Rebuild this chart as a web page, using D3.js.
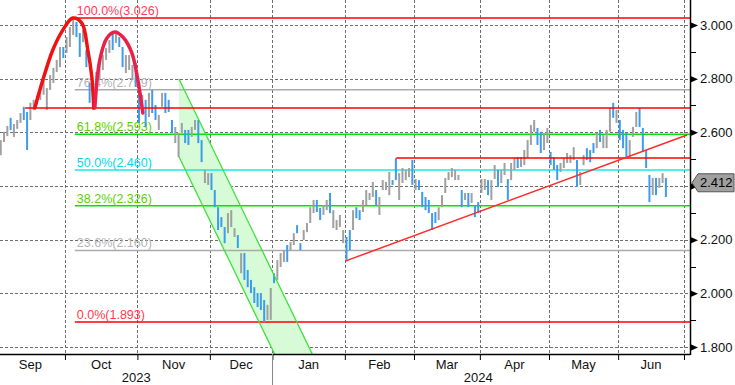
<!DOCTYPE html>
<html>
<head>
<meta charset="utf-8">
<script src="https://cdn.jsdelivr.net/npm/d3@7"></script>
<style>
body{margin:0;background:#fff;}
svg{display:block;font-family:"Liberation Sans",Arial,sans-serif;}
</style>
</head>
<body>
<div id="chart"></div>
<script>
// ---- data (daily bars, Sep 2023 - Jun 2024, trading-day index) ----
var monthStart = [0, 21, 43, 65, 84, 106, 127, 147, 168, 189, 209];
var monthNames = ["Sep", "Oct", "Nov", "Dec", "Jan", "Feb", "Mar", "Apr", "May", "Jun"];
var yearNames = ["2023", "2024"];
var yearStart = [0, 84];

var high = [
  2.583,2.571,2.602,2.624,2.654,2.631,2.646,2.672,2.695,2.676,2.710,2.721,2.736,2.773,2.795,2.765,2.814,2.840,2.870,2.918,2.918, // Sep
  2.955,2.993,3.026,3.011,2.970,2.981,2.907,2.784,2.758,2.825,2.862,2.888,2.914,2.944,2.970,2.970,2.955,2.918,2.888,2.888,2.851,2.859, // Oct
  2.758,2.740,2.721,2.747,2.758,2.702,2.665,2.747,2.747,2.721,2.646,2.620,2.598,2.635,2.609,2.609,2.620,2.646,2.646,2.571,2.460,2.448, // Nov
  2.448,2.385,2.321,2.284,2.247,2.299,2.310,2.243,2.217,2.150,2.150,2.087,2.050,2.023,2.001,2.001,1.975,1.957,2.020, // Dec
  2.075,2.124,2.150,2.161,2.180,2.191,2.224,2.254,2.187,2.236,2.262,2.321,2.348,2.348,2.318,2.329,2.348,2.374,2.310,2.273,2.292,2.236, // Jan
  2.210,2.236,2.310,2.321,2.310,2.348,2.385,2.374,2.415,2.385,2.359,2.422,2.415,2.452,2.422,2.504,2.448,2.467,2.460,2.467,2.497, // Feb
  2.426,2.422,2.378,2.359,2.348,2.299,2.303,2.321,2.366,2.430,2.452,2.467,2.460,2.441,2.385,2.374,2.374,2.374,2.329,2.340, // Mar
  2.426,2.426,2.422,2.422,2.478,2.460,2.460,2.486,2.426,2.486,2.504,2.508,2.508,2.534,2.571,2.627,2.646,2.616,2.602,2.598,2.616, // Apr
  2.527,2.508,2.478,2.486,2.504,2.523,2.515,2.545,2.497,2.452,2.515,2.541,2.534,2.560,2.598,2.609,2.590,2.609,2.691,2.710,2.683, // May
  2.646,2.609,2.598,2.571,2.620,2.676,2.691,2.616,2.534,2.441,2.430,2.430,2.430,2.448,2.430 // Jun
];
var low = [
  2.534,2.515,2.564,2.586,2.609,2.583,2.613,2.635,2.646,2.534,2.646,2.683,2.706,2.721,2.740,2.683,2.758,2.784,2.825,2.843,2.877,
  2.896,2.918,2.963,2.955,2.881,2.936,2.843,2.710,2.683,2.740,2.795,2.832,2.870,2.896,2.907,2.933,2.918,2.843,2.821,2.832,2.795,2.769,
  2.635,2.683,2.620,2.657,2.672,2.646,2.609,2.695,2.672,2.676,2.598,2.560,2.508,2.598,2.560,2.553,2.583,2.609,2.560,2.489,2.411,2.404,
  2.385,2.321,2.236,2.247,2.187,2.224,2.247,2.210,2.169,2.075,2.050,2.023,2.001,1.964,1.949,1.938,1.893,1.901,1.901,
  2.038,2.050,2.098,2.117,2.117,2.161,2.180,2.224,2.161,2.199,2.228,2.262,2.299,2.303,2.273,2.292,2.310,2.299,2.243,2.236,2.247,2.187,
  2.120,2.161,2.236,2.280,2.273,2.303,2.329,2.348,2.359,2.329,2.292,2.385,2.385,2.366,2.404,2.422,2.348,2.411,2.422,2.433,2.404,
  2.385,2.385,2.321,2.310,2.299,2.236,2.262,2.273,2.321,2.374,2.422,2.433,2.422,2.422,2.321,2.348,2.321,2.337,2.284,2.299,
  2.374,2.385,2.366,2.348,2.426,2.396,2.411,2.441,2.348,2.422,2.460,2.467,2.471,2.478,2.504,2.553,2.602,2.553,2.523,2.534,2.560,
  2.478,2.460,2.422,2.452,2.467,2.486,2.486,2.497,2.396,2.404,2.478,2.497,2.489,2.523,2.541,2.564,2.541,2.541,2.602,2.654,2.635,
  2.571,2.541,2.508,2.508,2.583,2.620,2.620,2.527,2.467,2.340,2.366,2.366,2.393,2.411,2.359
];
// 1 = down day (blue), 0 = up day (grey)
var down = [
  0,0,0,0,1,0,0,0,1,1,0,0,0,0,0,0,0,0,0,0,1,
  0,0,0,1,1,0,1,1,0,0,0,0,0,0,1,0,1,1,0,0,0,1,
  1,0,1,0,1,1,0,0,1,1,1,0,0,0,1,1,0,0,1,1,0,0,
  1,1,1,1,1,0,0,0,1,0,1,1,1,1,1,1,1,0,0,
  1,0,0,0,1,0,0,1,1,0,0,0,0,1,1,0,0,1,0,0,0,0,
  1,1,0,1,1,0,0,0,0,1,0,0,0,0,1,1,0,0,0,0,1,
  0,1,1,1,1,1,1,0,0,0,0,0,0,0,1,0,1,0,1,1,
  0,0,1,0,0,1,0,0,1,0,0,1,0,0,0,0,0,1,1,0,0,
  1,1,1,0,0,0,0,0,1,0,0,1,1,1,0,1,0,0,0,1,0,
  1,1,1,0,0,0,1,1,1,1,0,1,0,0,1
];
var lastValue = 2.412;

// Fibonacci retracement (from the Oct high to the Dec low)
var fibLevels = [1.893, 2.160, 2.326, 2.460, 2.593, 2.759, 3.026];
var fibPct = ["0.0%", "23.6%", "38.2%", "50.0%", "61.8%", "76.4%", "100.0%"];
var fibFrom = 24;

// horizontal red levels: [value, start index]
var redLevels = [[2.691, 8.9], [2.504, 121.6]];
// rising trend line
var trendIdx = [106.1, 209.9];
var trendVal = [2.120, 2.590];
// falling channel
var channelIdx = [55.6, 100.6];
var channelHi = [2.80, 1.66];
var channelLo = [2.51, 1.37];
// double-top arcs
var arc1Idx = [11.85, 14.28, 17.31, 20.35, 23.38, 26.12, 27.94, 29.16, 29.77];
var arc1Val = [2.691, 2.795, 2.907, 2.981, 3.026, 3.007, 2.907, 2.806, 2.691];
var arc2Idx = [30.07, 31.59, 33.72, 36.15, 38.58, 41.31, 43.14, 44.65];
var arc2Val = [2.691, 2.870, 2.951, 2.974, 2.955, 2.896, 2.795, 2.672];

var yMajor = [1.8, 2.0, 2.2, 2.4, 2.6, 2.8, 3.0];
var yMinor = [1.9, 2.1, 2.3, 2.5, 2.7, 2.9];

// ---- styles ----
var fibLine = ["#ff0000", "#aaaaaa", "#00e600", "#1ee6e6", "#00e600", "#aaaaaa", "#ff0000"];
var fibText = ["#ff3c46", "#b4b4b4", "#5ad200", "#00d8f0", "#5ad200", "#b4b4b4", "#ff3c5a"];
var blue = "#3d9cf0", grey = "#a0a0a0";

var W = 735, H = 385, plotR = 690, plotB = 354;

var svg = d3.select("#chart").append("svg")
  .attr("width", W).attr("height", H);

var x = d3.scaleLinear().domain([0, 209]).range([-4.2, 684]);
var y = d3.scaleLinear().domain([1.8, 3.0]).range([347, 25]);

svg.append("defs").append("clipPath").attr("id", "plotclip")
  .append("rect").attr("x", 0).attr("y", 0).attr("width", plotR).attr("height", plotB);

var plot = svg.append("g").attr("clip-path", "url(#plotclip)");

// grid
plot.append("g").selectAll("line").data(yMajor).join("line")
  .attr("x1", 0).attr("x2", plotR)
  .attr("y1", d => Math.round(y(d)) + 0.5).attr("y2", d => Math.round(y(d)) + 0.5)
  .attr("stroke", "#6e6e6e").attr("stroke-dasharray", "3,2");
plot.append("g").selectAll("line").data(monthStart.slice(1)).join("line")
  .attr("x1", d => Math.round(x(d)) + 0.5).attr("x2", d => Math.round(x(d)) + 0.5)
  .attr("y1", 0).attr("y2", plotB)
  .attr("stroke", "#6e6e6e").attr("stroke-dasharray", "3,2");

// channel fill
var chPts = [[channelIdx[0], channelHi[0]], [channelIdx[1], channelHi[1]],
             [channelIdx[1], channelLo[1]], [channelIdx[0], channelLo[0]]];
plot.append("path")
  .attr("d", d3.line().x(d => x(d[0])).y(d => y(d[1]))(chPts) + "Z")
  .attr("fill", "#d6fbd6");

// fib lines + labels
var fib = plot.append("g");
fib.selectAll("line").data(fibLevels).join("line")
  .attr("x1", x(fibFrom)).attr("x2", plotR)
  .attr("y1", d => y(d)).attr("y2", d => y(d))
  .attr("stroke", (d, i) => fibLine[i]).attr("stroke-width", 1.5);
fib.selectAll("text").data(fibLevels).join("text")
  .attr("x", x(fibFrom) + 2).attr("y", d => y(d) - 3)
  .attr("font-size", "12.5px")
  .attr("fill", (d, i) => fibText[i])
  .text((d, i) => fibPct[i] + "(" + d3.format(".3f")(d) + ")");

// bars
plot.append("g").selectAll("rect").data(high).join("rect")
  .attr("x", (d, i) => x(i + 0.5) - 1)
  .attr("width", 2)
  .attr("y", d => y(d))
  .attr("height", (d, i) => Math.max(1, y(low[i]) - y(d)))
  .attr("fill", (d, i) => down[i] ? blue : grey);

// channel edges
[channelHi, channelLo].forEach(function (v) {
  plot.append("line")
    .attr("x1", x(channelIdx[0])).attr("y1", y(v[0]))
    .attr("x2", x(channelIdx[1])).attr("y2", y(v[1]))
    .attr("stroke", "#3ee03e").attr("stroke-width", 1.3);
});

// red levels and trend line
plot.append("g").selectAll("line").data(redLevels).join("line")
  .attr("x1", d => x(d[1])).attr("x2", plotR)
  .attr("y1", d => y(d[0])).attr("y2", d => y(d[0]))
  .attr("stroke", "#ff0000").attr("stroke-width", 1.5);
plot.append("line")
  .attr("x1", x(trendIdx[0])).attr("y1", y(trendVal[0]))
  .attr("x2", x(trendIdx[1])).attr("y2", y(trendVal[1]))
  .attr("stroke", "#ff2a2a").attr("stroke-width", 1.5);

// arcs
var arcLine = d3.line().curve(d3.curveCatmullRom).x(d => x(d[0])).y(d => y(d[1]));
plot.append("path").attr("d", arcLine(d3.zip(arc1Idx, arc1Val)))
  .attr("fill", "none").attr("stroke", "#f01212").attr("stroke-width", 3.5).attr("stroke-linecap", "round");
plot.append("path").attr("d", arcLine(d3.zip(arc2Idx, arc2Val)))
  .attr("fill", "none").attr("stroke", "#ea2048").attr("stroke-width", 3.5).attr("stroke-linecap", "round");

// ---- axes ----
var ly = y(lastValue);
var yAxis = svg.append("g").attr("transform", "translate(" + plotR + ",0)")
  .call(d3.axisRight(y).tickValues(yMajor).tickSize(0).tickPadding(10)
    // the label hidden under the last-price marker is left blank
    .tickFormat(d => Math.abs(y(d) - ly) < 14 ? "" : d3.format(".3f")(d)));
yAxis.select(".domain").remove();
yAxis.selectAll("text").attr("font-size", "13px").attr("fill", "#111")
  .attr("font-family", "Liberation Sans, Arial, sans-serif");
yAxis.selectAll(".tick").append("path").attr("d", "M0,-3.5L8,0L0,3.5Z").attr("fill", "#000");
svg.append("g").selectAll("line").data(yMinor).join("line")
  .attr("x1", plotR).attr("x2", plotR + 6)
  .attr("y1", d => Math.round(y(d)) + 0.5).attr("y2", d => Math.round(y(d)) + 0.5)
  .attr("stroke", "#000");
svg.append("line").attr("x1", plotR + 0.5).attr("x2", plotR + 0.5).attr("y1", 0).attr("y2", plotB + 1)
  .attr("stroke", "#000").attr("stroke-width", 1.5);

var xAxis = svg.append("g").attr("transform", "translate(0," + plotB + ")")
  .call(d3.axisBottom(x).tickValues(monthStart.slice(1)).tickSize(6).tickFormat(""));
xAxis.select(".domain").remove();
xAxis.selectAll("line").attr("stroke", "#000");
svg.append("line").attr("x1", 0).attr("x2", plotR).attr("y1", plotB + 0.5).attr("y2", plotB + 0.5)
  .attr("stroke", "#000").attr("stroke-width", 1.5);

svg.append("g").selectAll("text").data(monthNames).join("text")
  .attr("x", (d, i) => x((monthStart[i] + monthStart[i + 1]) / 2))
  .attr("y", 369).attr("text-anchor", "middle")
  .attr("font-size", "13px").attr("fill", "#111").text(d => d);

var yearEnd = [monthStart[4], monthStart[10]];
svg.append("g").selectAll("text").data(yearNames).join("text")
  .attr("x", (d, i) => (Math.max(0, x(yearStart[i])) + Math.min(plotR, x(yearEnd[i]))) / 2)
  .attr("y", 382).attr("text-anchor", "middle")
  .attr("font-size", "13px").attr("fill", "#111").text(d => d);
svg.append("line")
  .attr("x1", Math.round(x(yearStart[1])) + 0.5).attr("x2", Math.round(x(yearStart[1])) + 0.5)
  .attr("y1", plotB).attr("y2", H)
  .attr("stroke", "#888");

// last price marker
svg.append("path")
  .attr("d", "M" + (plotR + 2) + "," + ly + "L" + (plotR + 8) + "," + (ly - 9) +
    "L" + (W - 1) + "," + (ly - 9) + "L" + (W - 1) + "," + (ly + 9) + "L" + (plotR + 8) + "," + (ly + 9) + "Z")
  .attr("fill", "#a0a0a0").attr("stroke", "#555");
svg.append("text").attr("x", plotR + 10).attr("y", ly + 4.5)
  .attr("font-size", "13px").attr("fill", "#000").text(d3.format(".3f")(lastValue));
</script>
</body>
</html>
